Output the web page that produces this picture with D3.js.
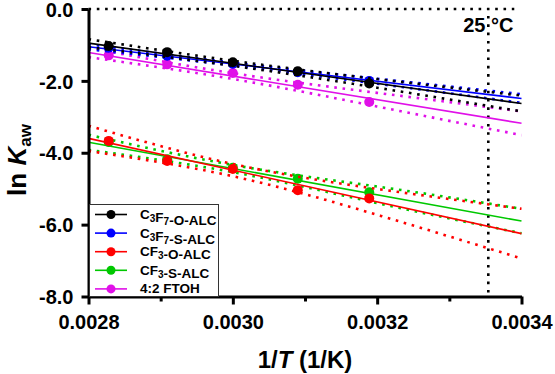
<!DOCTYPE html>
<html>
<head>
<meta charset="utf-8">
<script src="https://cdn.jsdelivr.net/npm/d3@7"></script>
<style>
  body { margin: 0; background: #fff; }
  text { font-family: "Liberation Sans", Arial, sans-serif; font-weight: bold; }
</style>
</head>
<body>
<div id="chart"></div>
<script>
// 1/T of the measured temperatures (1/K)
const invT = [0.002828, 0.002909, 0.003000, 0.003090, 0.003189];

const seriesNames = ["C3F7-O-ALC", "C3F7-S-ALC", "CF3-O-ALC", "CF3-S-ALC", "4:2 FTOH"];
const seriesColors = ["#000000", "#0000ff", "#ff0000", "#00c800", "#e010e8"];

// ln Kaw per compound
const lnKaw_C3F7_O = [-1.03, -1.20, -1.48, -1.73, -2.07];
const lnKaw_C3F7_S = [-1.08, -1.30, -1.52, -1.76, -2.00];
const lnKaw_CF3_O = [-3.67, -4.23, -4.45, -5.04, -5.27];
const lnKaw_CF3_S = [-3.70, -4.18, -4.42, -4.72, -5.10];
const lnKaw_FTOH = [-1.29, -1.54, -1.78, -2.11, -2.59];

// fitted line, value at the two ends of the x range
const fitX = [0.0028, 0.0034];
const fit_C3F7_O = [-0.95, -2.63];
const fit_C3F7_S = [-1.05, -2.49];
const fit_CF3_O = [-3.60, -6.25];
const fit_CF3_S = [-3.71, -5.90];
const fit_FTOH = [-1.21, -3.18];

// half width of the confidence band
const bandX = [0.0028, 0.0030, 0.0032, 0.0034];
const band_C3F7_O = [0.11, 0.07, 0.12, 0.22];
const band_C3F7_S = [0.07, 0.04, 0.07, 0.12];
const band_CF3_O = [0.35, 0.17, 0.36, 0.69];
const band_CF3_S = [0.21, 0.10, 0.23, 0.34];
const band_FTOH = [0.13, 0.08, 0.19, 0.33];

const xMajor = [0.0028, 0.0030, 0.0032, 0.0034];
const xMinor = [0.0029, 0.0031, 0.0033];
const yTicks = [0, -2, -4, -6, -8];
const roomT = 0.003354; // 25 °C

const series = [
  {name: seriesNames[0], color: seriesColors[0], y: lnKaw_C3F7_O, fit: fit_C3F7_O, band: band_C3F7_O},
  {name: seriesNames[1], color: seriesColors[1], y: lnKaw_C3F7_S, fit: fit_C3F7_S, band: band_C3F7_S},
  {name: seriesNames[2], color: seriesColors[2], y: lnKaw_CF3_O, fit: fit_CF3_O, band: band_CF3_O},
  {name: seriesNames[3], color: seriesColors[3], y: lnKaw_CF3_S, fit: fit_CF3_S, band: band_CF3_S},
  {name: seriesNames[4], color: seriesColors[4], y: lnKaw_FTOH, fit: fit_FTOH, band: band_FTOH}
];

const W = 555, H = 374;
const plot = {left: 88.5, right: 521.5, top: 9, bottom: 296.5};

const svg = d3.select('#chart')
  .append('svg')
  .attr('width', W)
  .attr('height', H);

const x = d3.scaleLinear()
  .domain([0.0028, 0.0034])
  .range([plot.left, plot.right]);

const y = d3.scaleLinear()
  .domain([-8, 0])
  .range([plot.bottom, plot.top]);

// reference lines
svg.append('line')
  .attr('x1', x(0.0028)).attr('x2', x(0.00339))
  .attr('y1', y(0)).attr('y2', y(0))
  .style('stroke', '#000').style('stroke-width', 2.6)
  .style('stroke-dasharray', '2.6,5.7');

svg.append('line')
  .attr('x1', x(roomT)).attr('x2', x(roomT))
  .attr('y1', 16).attr('y2', y(-8))
  .style('stroke', '#000').style('stroke-width', 2.6)
  .style('stroke-dasharray', '2.6,5.7');

svg.append('text')
  .attr('x', x(roomT))
  .attr('y', 32)
  .attr('text-anchor', 'middle')
  .style('font-size', '20px')
  .text('25 °C');

// series, last drawn first so the first series sits on top
const bandLine = d3.line().x(d => x(d[0])).y(d => y(d[1])).curve(d3.curveNatural);

series.slice().reverse().forEach(s => {
  const fitScale = d3.scaleLinear().domain(fitX).range(s.fit);
  const g = svg.append('g');

  [1, -1].forEach(sign => {
    g.append('path')
      .attr('d', bandLine(bandX.map((bx, i) => [bx, fitScale(bx) + sign * s.band[i]])))
      .style('fill', 'none')
      .style('stroke', s.color)
      .style('stroke-width', 2.6)
      .style('stroke-dasharray', '2.6,5.7');
  });

  g.append('line')
    .attr('x1', x(fitX[0])).attr('x2', x(fitX[1]))
    .attr('y1', y(s.fit[0])).attr('y2', y(s.fit[1]))
    .style('stroke', s.color)
    .style('stroke-width', 1.6);

  g.selectAll('circle')
    .data(s.y)
    .enter()
    .append('circle')
    .attr('cx', (d, i) => x(invT[i]))
    .attr('cy', d => y(d))
    .attr('r', 5)
    .style('fill', s.color);
});

// axes
const xAxis = svg.append('g')
  .attr('transform', `translate(0, ${plot.bottom})`)
  .call(d3.axisBottom(x).tickValues(xMajor).tickFormat(d3.format('.4f')).tickSize(8).tickSizeOuter(0).tickPadding(10));

svg.append('g')
  .attr('transform', `translate(0, ${plot.bottom})`)
  .call(d3.axisBottom(x).tickValues(xMinor).tickFormat('').tickSize(5).tickSizeOuter(0))
  .select('.domain').remove();

const yAxis = svg.append('g')
  .attr('transform', `translate(${plot.left}, 0)`)
  .call(d3.axisLeft(y).tickValues(yTicks).tickFormat(d => d.toFixed(1)).tickSize(7).tickSizeOuter(0).tickPadding(8));

svg.selectAll('.domain, .tick line')
  .style('stroke', '#000')
  .style('stroke-width', 3);

xAxis.selectAll('.tick text').style('font-size', '20px').style('font-family', '"Liberation Sans", Arial, sans-serif').style('font-weight', 'bold');
yAxis.selectAll('.tick text').style('font-size', '20px').style('font-family', '"Liberation Sans", Arial, sans-serif').style('font-weight', 'bold')
  .attr('dy', '0.36em');

// axis titles
const xTitle = svg.append('text')
  .attr('x', (plot.left + plot.right) / 2)
  .attr('y', 368)
  .attr('text-anchor', 'middle')
  .style('font-size', '24px');
xTitle.append('tspan').text('1/');
xTitle.append('tspan').style('font-style', 'italic').text('T');
xTitle.append('tspan').text(' (1/K)');

const yTitle = svg.append('text')
  .attr('transform', 'rotate(-90)')
  .attr('x', -160)
  .attr('y', 26)
  .attr('text-anchor', 'middle')
  .style('font-size', '26px');
yTitle.append('tspan').text('ln ');
yTitle.append('tspan').style('font-style', 'italic').text('K');
yTitle.append('tspan').attr('dy', 5).style('font-size', '17px').text('aw');

// legend
const legend = svg.append('g');
legend.append('rect')
  .attr('x', 89.5).attr('y', 204.5)
  .attr('width', 129).attr('height', 92)
  .style('fill', '#fff')
  .style('stroke', '#333')
  .style('stroke-width', 1);

series.forEach((s, i) => {
  const ly = 214.5 + i * 18.6;
  legend.append('line')
    .attr('x1', 95).attr('x2', 127)
    .attr('y1', ly).attr('y2', ly)
    .style('stroke', s.color).style('stroke-width', 1.6);
  legend.append('circle')
    .attr('cx', 111).attr('cy', ly).attr('r', 4.5)
    .style('fill', s.color);
  const t = legend.append('text')
    .attr('x', 140).attr('y', ly + 4.5)
    .style('font-size', '13.5px');
  // digits right after a letter are subscripts
  s.name.split('').forEach((ch, k) => {
    const sub = /[0-9]/.test(ch) && k > 0 && /[A-Z]/.test(s.name[k - 1]);
    if (sub) {
      t.append('tspan').attr('dy', 3).style('font-size', '10px').text(ch);
      t.append('tspan').attr('dy', -3).text('');
    } else {
      t.append('tspan').text(ch);
    }
  });
});
</script>
</body>
</html>
